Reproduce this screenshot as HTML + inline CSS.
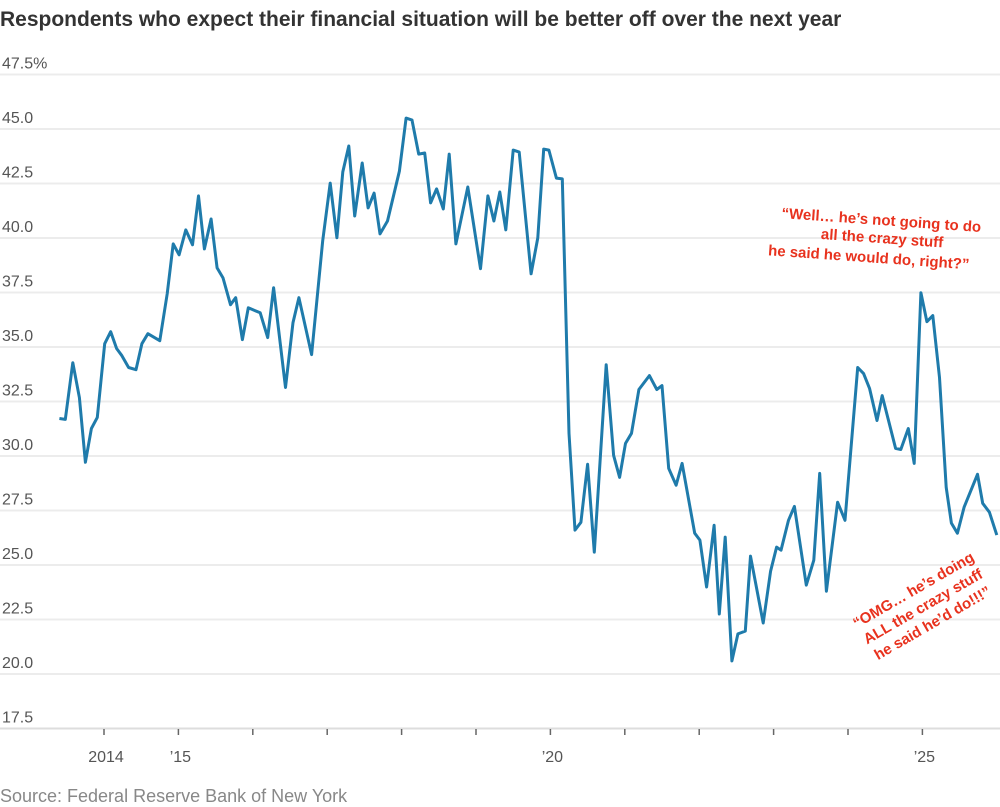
<!DOCTYPE html>
<html><head><meta charset="utf-8"><style>
body{margin:0;background:#fff;width:1000px;height:807px;overflow:hidden;font-family:"Liberation Sans",sans-serif}
svg{display:block}
</style></head><body>
<svg id="chart" width="1000" height="807">
<text x="0" y="26" font-size="21" font-weight="bold" fill="#333">Respondents who expect their financial situation will be better off over the next year</text>
<g id="grid"></g>
<g id="xaxis"></g>
<path id="line" fill="none" stroke="#1f7bab" stroke-width="3" stroke-linejoin="round"></path>
<g font-weight="bold" font-size="15" fill="#e8321e" text-anchor="middle" transform="rotate(4 880 240)">
<text x="880" y="225">“Well… he’s not going to do</text>
<text x="882" y="243">all the crazy stuff</text>
<text x="870" y="263">he said he would do, right?”</text>
</g>
<g font-weight="bold" font-size="15" fill="#e8321e" text-anchor="middle" transform="rotate(-30 925 610)">
<text x="925" y="592">“OMG… he’s doing</text>
<text x="925" y="611">ALL the crazy stuff</text>
<text x="925" y="630">he said he’d do!!!”</text>
</g>
<text x="0" y="802" font-size="18" fill="#888">Source: Federal Reserve Bank of New York</text>
</svg>
<script>
const years=[2013.40,2013.48,2013.58,2013.67,2013.75,2013.83,2013.91,2014.01,2014.09,2014.17,2014.24,2014.33,2014.43,2014.51,2014.59,2014.75,2014.85,2014.93,2015.01,2015.10,2015.19,2015.27,2015.35,2015.44,2015.52,2015.60,2015.70,2015.77,2015.86,2015.94,2016.10,2016.20,2016.28,2016.44,2016.54,2016.62,2016.79,2016.94,2017.04,2017.13,2017.21,2017.29,2017.37,2017.47,2017.55,2017.63,2017.71,2017.81,2017.97,2018.06,2018.14,2018.23,2018.31,2018.39,2018.47,2018.56,2018.64,2018.73,2018.89,2019.06,2019.16,2019.24,2019.32,2019.40,2019.50,2019.58,2019.74,2019.83,2019.91,2019.98,2020.08,2020.16,2020.25,2020.33,2020.41,2020.50,2020.59,2020.75,2020.85,2020.93,2021.01,2021.09,2021.19,2021.33,2021.43,2021.50,2021.59,2021.69,2021.77,2021.94,2022.01,2022.10,2022.20,2022.27,2022.35,2022.44,2022.52,2022.62,2022.69,2022.86,2022.96,2023.04,2023.10,2023.20,2023.28,2023.44,2023.54,2023.62,2023.71,2023.86,2023.96,2024.13,2024.21,2024.29,2024.39,2024.46,2024.64,2024.71,2024.81,2024.89,2024.98,2025.06,2025.14,2025.23,2025.32,2025.39,2025.47,2025.56,2025.74,2025.81,2025.90,2026.00];
const values=[31.72,31.68,34.28,32.68,29.71,31.26,31.77,35.15,35.70,34.93,34.60,34.06,33.96,35.15,35.61,35.29,37.44,39.73,39.23,40.37,39.69,41.93,39.50,40.87,38.63,38.17,36.94,37.26,35.34,36.80,36.57,35.43,37.72,33.14,36.12,37.26,34.65,39.87,42.52,40.01,43.03,44.22,41.01,43.44,41.38,42.06,40.19,40.78,43.07,45.50,45.41,43.85,43.90,41.61,42.25,41.33,43.85,39.73,42.34,38.59,41.93,40.78,42.11,40.37,44.03,43.94,38.36,40.01,44.08,44.03,42.75,42.71,31.04,26.60,26.96,29.62,25.59,34.19,30.03,29.02,30.58,31.04,33.05,33.69,33.05,33.23,29.43,28.66,29.66,26.46,26.14,23.99,26.82,22.75,26.28,20.60,21.84,21.97,25.41,22.34,24.72,25.82,25.68,27.05,27.69,24.08,25.22,29.20,23.80,27.88,27.05,34.06,33.78,33.09,31.63,32.77,30.35,30.30,31.26,29.66,37.49,36.16,36.44,33.60,28.56,26.92,26.46,27.65,29.16,27.83,27.42,26.37];
const yTicks=[17.5,20,22.5,25,27.5,30,32.5,35,37.5,40,42.5,45,47.5];
const yTickLabels=["17.5","20.0","22.5","25.0","27.5","30.0","32.5","35.0","37.5","40.0","42.5","45.0","47.5%"];
const xTickYears=[2014,2015,2016,2017,2018,2019,2020,2021,2022,2023,2024,2025];
const xLabelYears=[2014,2015,2020,2025];
const xLabels=["2014","’15","’20","’25"];
function xs(y){return 104+(y-2014)*74.4;}
function ys(v){return 674-(v-20)*21.8;}
const NS="http://www.w3.org/2000/svg";
const grid=document.getElementById('grid');
yTicks.forEach((t,i)=>{
  const l=document.createElementNS(NS,'line');
  l.setAttribute('x1',0);l.setAttribute('x2',1000);
  l.setAttribute('y1',ys(t));l.setAttribute('y2',ys(t));
  l.setAttribute('stroke',i===0?'#ddd':'#ececec');l.setAttribute('stroke-width',2);
  
  
  grid.appendChild(l);
  const tx=document.createElementNS(NS,'text');
  tx.setAttribute('x',2);tx.setAttribute('y',ys(t)-6);
  tx.setAttribute('font-size',16);tx.setAttribute('fill','#555');
  tx.textContent=yTickLabels[i];
  
  
  grid.appendChild(tx);
});
const xa=document.getElementById('xaxis');
xTickYears.forEach(y=>{
  const l=document.createElementNS(NS,'line');
  l.setAttribute('x1',xs(y));l.setAttribute('x2',xs(y));
  l.setAttribute('y1',729);l.setAttribute('y2',735);
  l.setAttribute('stroke','#666');l.setAttribute('stroke-width',1.5);
  
  
  xa.appendChild(l);
});
xLabelYears.forEach((y,i)=>{
  const tx=document.createElementNS(NS,'text');
  tx.setAttribute('x',xs(y)+2);tx.setAttribute('y',762);
  tx.setAttribute('font-size',16);tx.setAttribute('fill','#555');
  tx.setAttribute('text-anchor','middle');
  tx.textContent=xLabels[i];
  
  
  xa.appendChild(tx);
});
document.getElementById('line').setAttribute('d',years.map((y,i)=>(i?'L':'M')+xs(y).toFixed(1)+','+ys(values[i]).toFixed(1)).join(''));
</script>
</body></html>
